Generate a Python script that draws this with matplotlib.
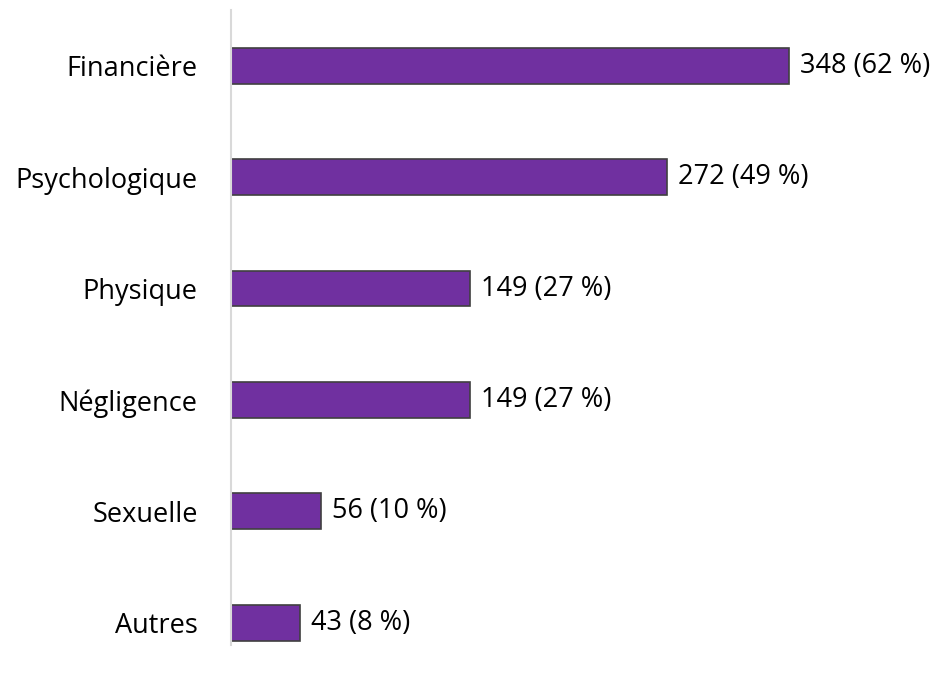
import matplotlib.pyplot as plt

plt.rcParams['font.family'] = ['Open Sans', 'DejaVu Sans']

categories = ['Financière', 'Psychologique', 'Physique', 'Négligence', 'Sexuelle', 'Autres']
counts = [348, 272, 149, 149, 56, 43]
percents = [62, 49, 27, 27, 10, 8]

fig = plt.figure(figsize=(9.41, 6.73), dpi=100)
ax = fig.add_axes([231 / 941, 28 / 673, 1 - 231 / 941, 635 / 673])

ypos = list(range(len(categories)))
ax.barh(ypos, counts, height=0.32, color='#7030A0', edgecolor='#404040', linewidth=1.2)

for y, c, p in zip(ypos, counts, percents):
    ax.annotate(f'{c} ({p} %)', (c, y), xytext=(8, 0), textcoords='offset points',
                va='center', ha='left', fontsize=19.5, color='black')

ax.set_ylim(5.2, -0.5)
ax.set_xlim(0, 443)
ax.set_yticks(ypos)
ax.set_yticklabels(categories, fontsize=19.5)
ax.tick_params(axis='y', length=0, pad=24)
ax.set_xticks([])
for s in ['top', 'right', 'bottom']:
    ax.spines[s].set_visible(False)
ax.spines['left'].set_color('#d9d9d9')
ax.spines['left'].set_linewidth(1.5)

fig.savefig('out.png', dpi=100)
